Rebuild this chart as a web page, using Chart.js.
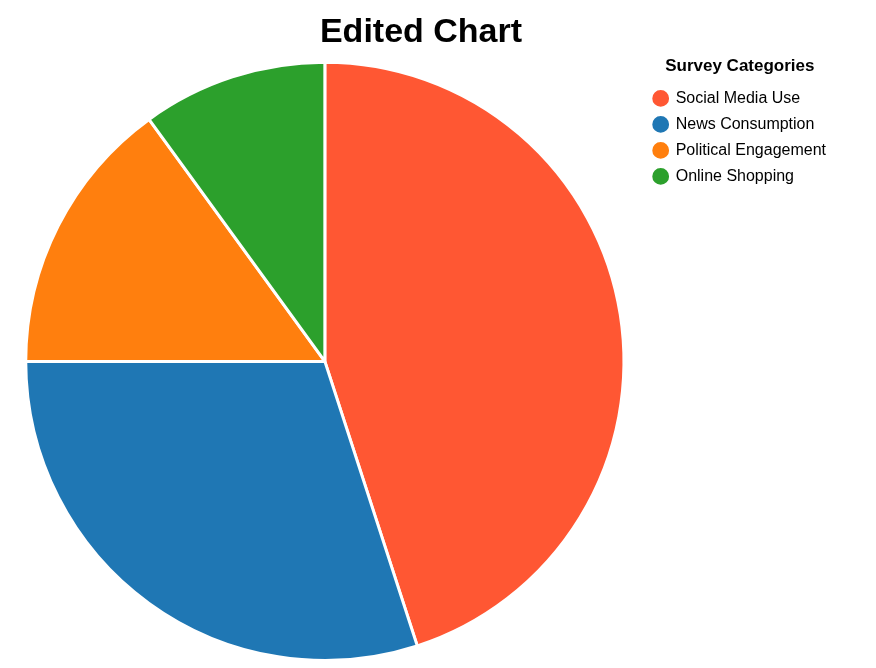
<!DOCTYPE html>
<html>
<head>
<script src="https://cdn.jsdelivr.net/npm/chart.js@4"></script>
<style>
body { margin: 0; background: #fff; }
#wrap { width: 876px; height: 668px; }
</style>
</head>
<body>
<div id="wrap"><canvas id="pie"></canvas></div>
<script>
var categories = ['Social Media Use', 'News Consumption', 'Political Engagement', 'Online Shopping'];
var values = [45, 30, 15, 10];
var colors = ['#ff5733', '#1f77b4', '#ff7f0e', '#2ca02c'];

var ctx = document.getElementById('pie').getContext('2d');
var chart = new Chart(ctx, {
    type: 'pie',
    data: {
        labels: categories,
        datasets: [{
            data: values,
            backgroundColor: colors,
            borderColor: '#ffffff',
            borderWidth: 3
        }]
    },
    options: {
        responsive: true,
        maintainAspectRatio: false,
        animation: false,
        layout: { padding: { left: 6, right: 40, top: 0, bottom: 6 } },
        plugins: {
            title: {
                display: true,
                text: 'Edited Chart',
                color: '#000',
                font: { family: 'Liberation Sans', size: 34, weight: 'bold' },
                padding: { top: 12, bottom: 8 }
            },
            legend: {
                position: 'right',
                align: 'start',
                title: {
                    display: true,
                    text: 'Survey Categories',
                    color: '#000',
                    font: { family: 'Liberation Sans', size: 17, weight: 'bold' },
                    padding: { top: 58, bottom: 2 }
                },
                labels: {
                    usePointStyle: true,
                    pointStyle: 'circle',
                    boxWidth: 14,
                    boxHeight: 14,
                    padding: 10,
                    color: '#000',
                    font: { family: 'Liberation Sans', size: 16 }
                }
            },
            tooltip: { enabled: false }
        }
    }
});
</script>
</body>
</html>
